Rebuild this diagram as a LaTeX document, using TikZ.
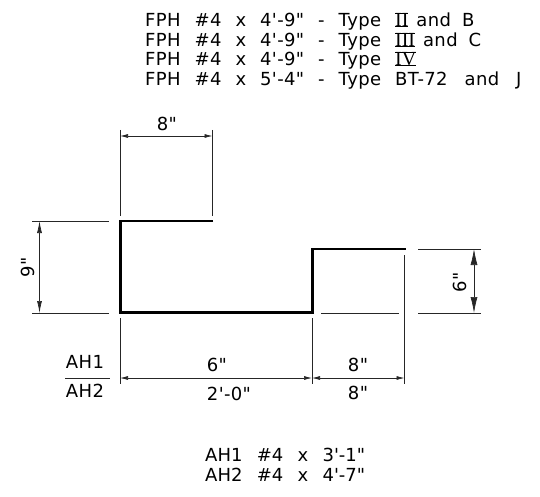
\documentclass[tikz,border=0pt]{standalone}
\usepackage{fontspec}
\newfontfamily\cadfont[WordSpace=2.3,LetterSpace=2]{DejaVu Sans}
\newfontfamily\cadnote[WordSpace=2.5]{DejaVu Sans}
\newfontfamily\romfont{Liberation Serif}
\usetikzlibrary{arrows.meta}
\newcommand{\rnum}[1]{\setbox0\hbox{\fontsize{20}{20}\romfont #1}\rlap{\rule[-0.9pt]{\wd0}{1.1pt}}\rlap{\raisebox{\dimexpr\ht0-0.6pt\relax}{\rule{\wd0}{1.1pt}}}\box0\relax}
\tikzset{
  x=1pt,y=-1pt,
  shape line/.style={line width=2.8pt,line join=miter,line cap=butt},
  ext line/.style={line width=0.7pt,black!85},
  dim line/.style={line width=0.7pt,black!85,{Latex[length=8pt,width=4pt]}-{Latex[length=8pt,width=4pt]}},
  lab/.style={font=\fontsize{18}{18}\cadfont\selectfont,inner sep=0pt},
  block/.style={font=\fontsize{18}{18}\cadfont\selectfont,inner sep=0pt,anchor=base west},
  noteblock/.style={font=\fontsize{18}{18}\cadnote\selectfont,inner sep=0pt,anchor=base west}
}
\begin{document}
\begin{tikzpicture}
\useasboundingbox (0,0) rectangle (540,497);
\node[block] (toptext) at (145,26.5) {FPH \#4 x 4'-9" - Type \rnum{II}\kern8pt and\kern-3pt{} B};
\node[block] (toptextb) at (145,46.5) {FPH \#4 x 4'-9" - Type \rnum{III}\kern8pt and\kern-3pt{} C};
\node[block] (toptextc) at (145,65.5) {FPH \#4 x 4'-9" - Type \rnum{IV}};
\node[block] (toptextd) at (145,85.5) {FPH \#4 x 5'-4" - Type BT-72\kern3pt{} and\kern3pt{} J};
\coordinate (a) at (213,221); \coordinate (b) at (120.5,221); \coordinate (c) at (120.5,312.5);
\coordinate (d) at (312.5,312.5); \coordinate (e) at (312.5,249); \coordinate (f) at (406,249);
\draw[shape line] (a) -- (b) -- (c) -- (d) -- (e) -- (f);
\coordinate (e1) at (120,130); \coordinate (e2) at (120,216);
\coordinate (e3) at (212.5,130); \coordinate (e4) at (212.5,216);
\draw[ext line] (e1) -- (e2); \draw[ext line] (e3) -- (e4);
\coordinate (d1) at (120,136); \coordinate (d2) at (212.5,136);
\draw[dim line] (d1) -- (d2);
\node[lab] (l8top) at (167,124) {8"};
\coordinate (h1) at (32,221); \coordinate (h2) at (109,221);
\coordinate (h3) at (32,313); \coordinate (h4) at (109,313);
\draw[ext line] (h1) -- (h2); \draw[ext line] (h3) -- (h4);
\coordinate (v1) at (39.5,221); \coordinate (v2) at (39.5,313);
\draw[line width=0.7pt,black!85,{Latex[length=12pt,width=5pt]}-{Latex[length=12pt,width=5pt]}] (v1) -- (v2);
\node[lab,rotate=90] (l9) at (28,267) {9"};
\coordinate (r1) at (418,249); \coordinate (r2) at (481,249);
\coordinate (r3) at (418,313); \coordinate (r4) at (481,313);
\coordinate (r5) at (321,313); \coordinate (r6) at (399,313);
\draw[ext line] (r1) -- (r2); \draw[ext line] (r3) -- (r4); \draw[ext line] (r5) -- (r6);
\coordinate (w1) at (474,249); \coordinate (w2) at (474,313);
\draw[line width=0.7pt,black!85,{Latex[length=16pt,width=7pt]}-{Latex[length=16pt,width=7pt]}] (w1) -- (w2);
\node[lab,rotate=90] (l6r) at (460,282) {6"};
\coordinate (x1) at (120,318); \coordinate (x2) at (120,384);
\coordinate (x3) at (312,318); \coordinate (x4) at (312,384);
\coordinate (x5) at (404.5,255); \coordinate (x6) at (404.5,384);
\draw[ext line] (x1) -- (x2); \draw[ext line] (x3) -- (x4); \draw[ext line] (x5) -- (x6);
\coordinate (y1) at (120,378); \coordinate (y2) at (312,378); \coordinate (y3) at (404.5,378);
\draw[dim line] (y1) -- (y2); \draw[dim line] (y2) -- (y3);
\coordinate (z1) at (65,378); \coordinate (z2) at (110,378);
\draw[ext line] (z1) -- (z2);
\node[lab] (ah1) at (85,362) {AH1};
\node[lab] (ah2) at (85,391) {AH2};
\node[lab] (l6) at (217,365) {6"};
\node[lab] (l2) at (229,394) {2'-0"};
\node[lab] (l8a) at (358,365) {8"};
\node[lab] (l8b) at (358,393) {8"};
\node[noteblock] (b1) at (205,461.5) {AH1 \#4 x 3'-1"};
\node[noteblock] (b2) at (205,481.5) {AH2 \#4 x 4'-7"};
\end{tikzpicture}
\end{document}
